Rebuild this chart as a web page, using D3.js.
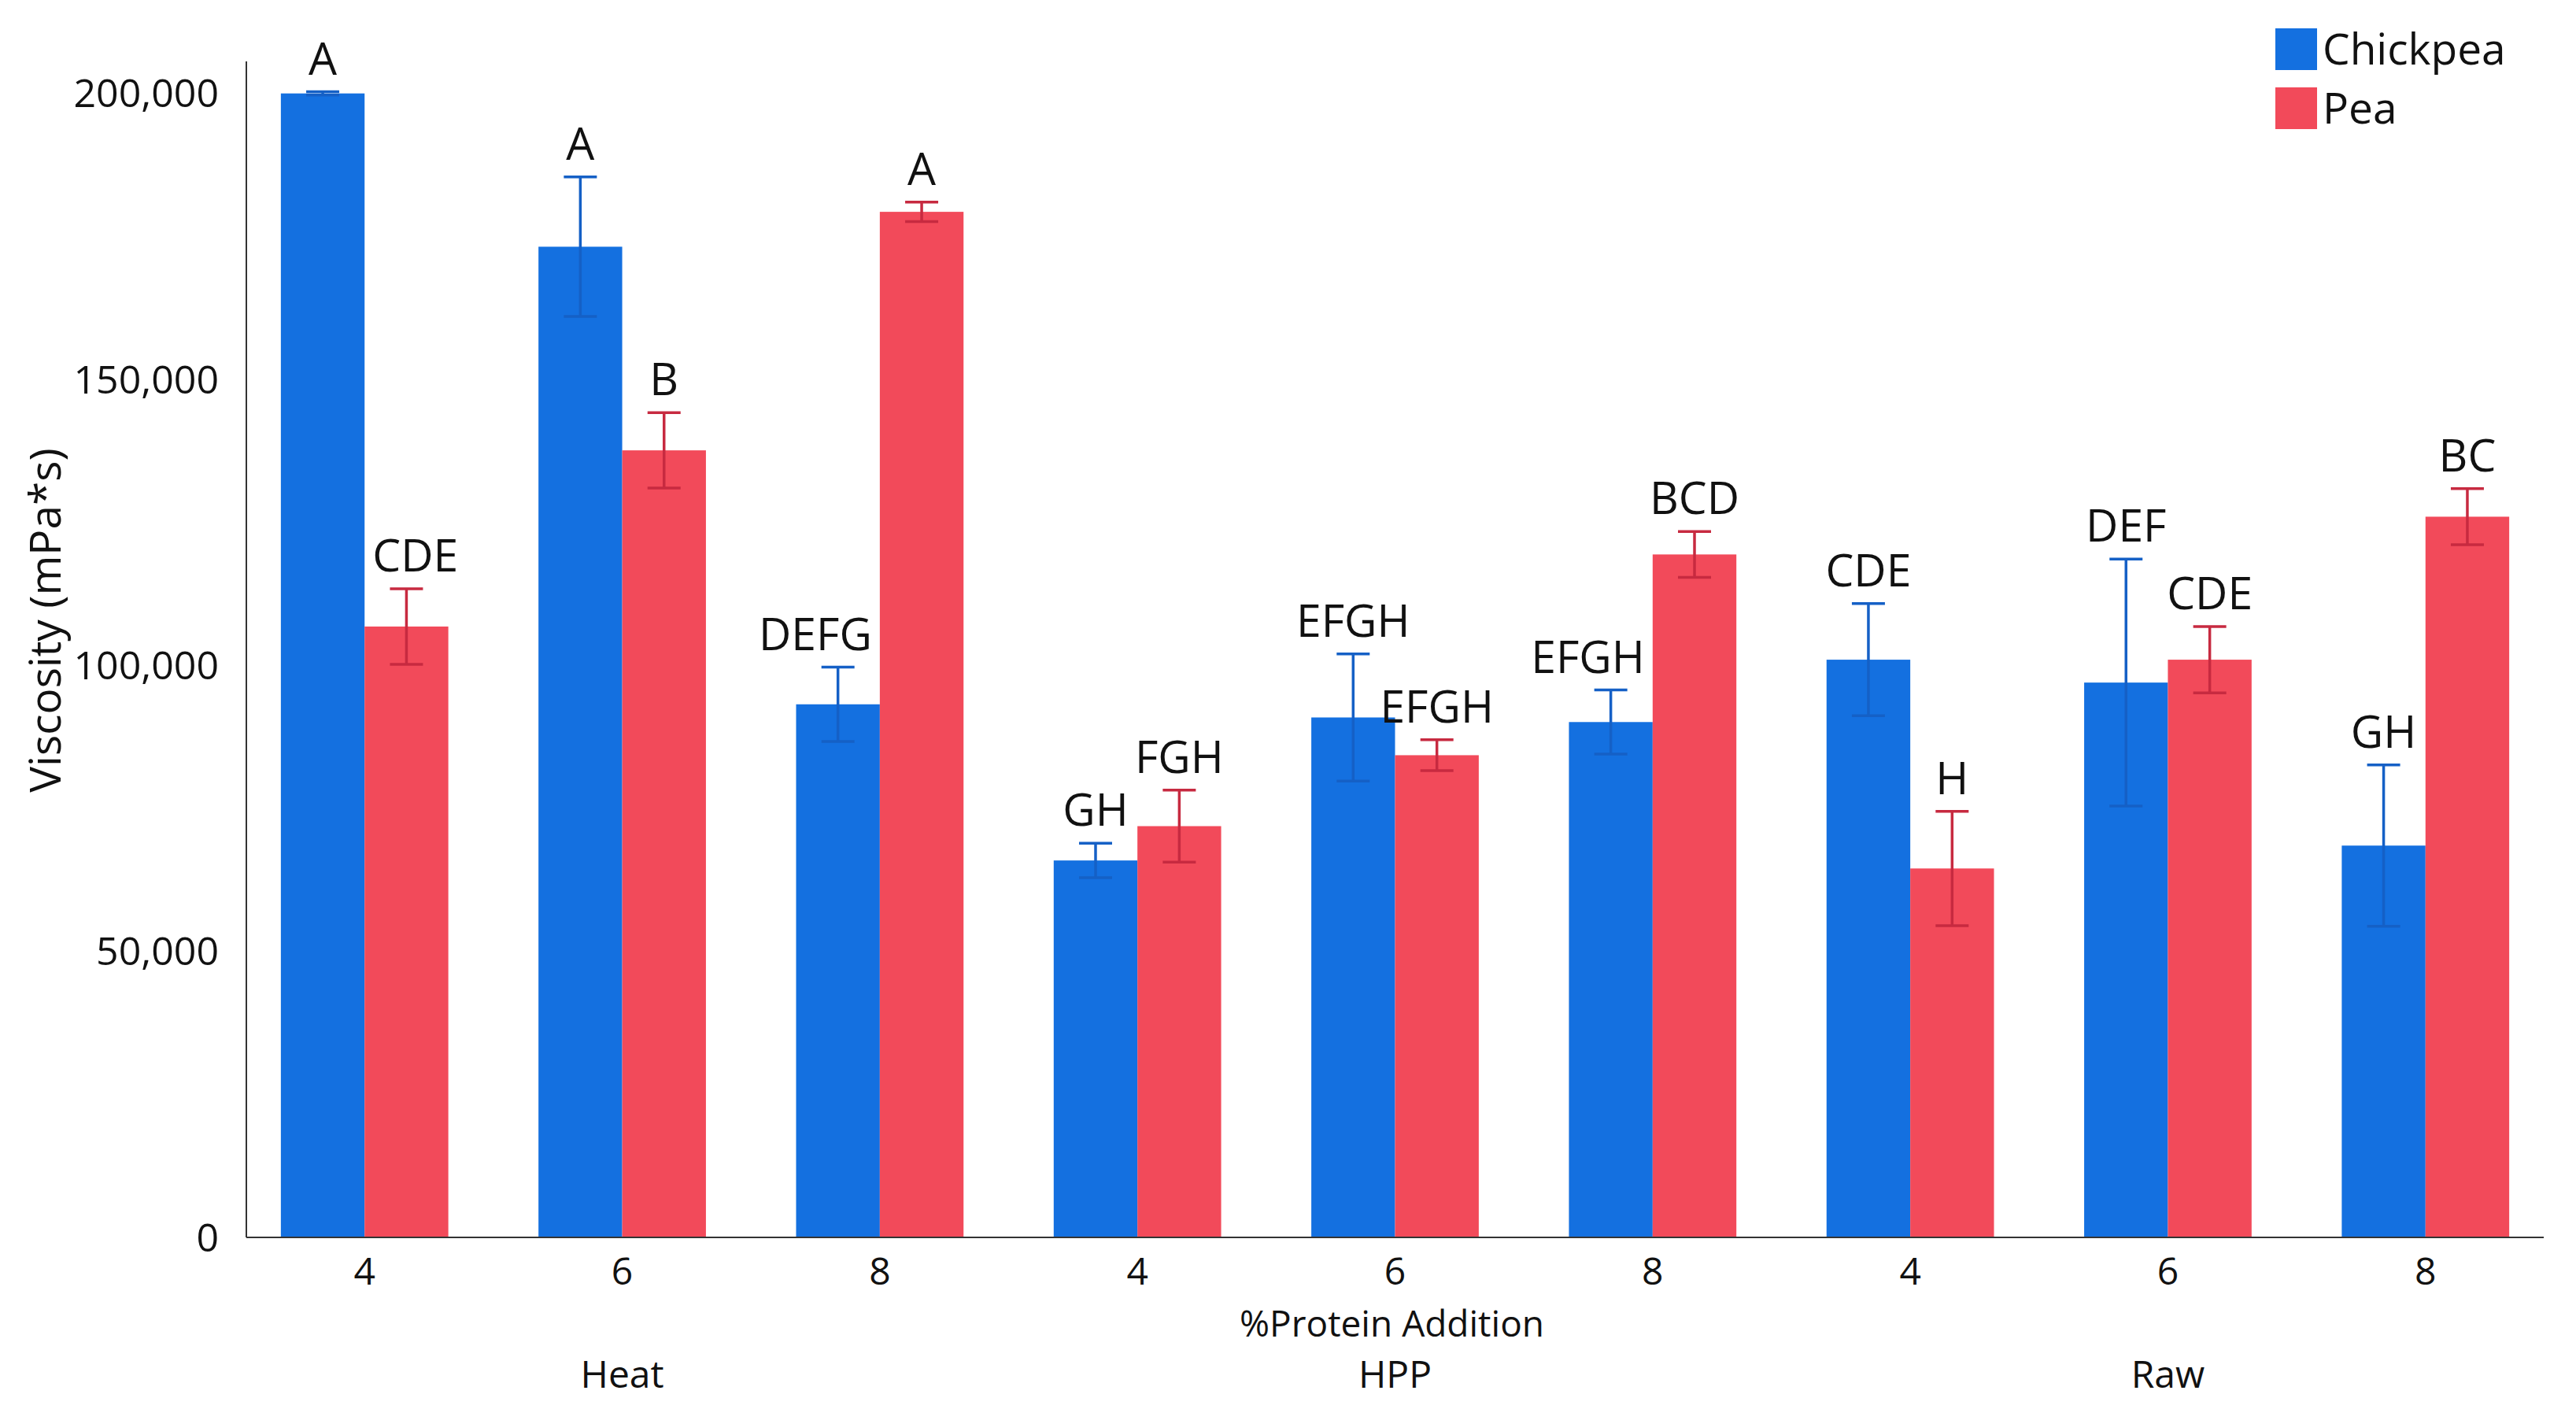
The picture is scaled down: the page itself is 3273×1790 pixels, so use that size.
<!DOCTYPE html>
<html>
<head>
<meta charset="utf-8">
<script src="https://cdnjs.cloudflare.com/ajax/libs/d3/7.8.5/d3.min.js"></script>
<style>
  body { margin: 0; background: #fff; }
  text { font-family: "Open Sans", "Noto Sans", sans-serif; fill: #111; }
</style>
</head>
<body>
<div class="chart"></div>
<script>
// data
var groups = ["Heat", "HPP", "Raw"];
var levels = ["4", "6", "8"];
var series = ["Chickpea", "Pea"];
var chickpea    = [200000, 173200, 93200, 65900, 90900, 90100, 101000, 97000, 68500];
var chickpeaErr = [300, 12200, 6500, 3000, 11100, 5600, 9800, 21600, 14100];
var pea         = [106800, 137600, 179300, 71900, 84300, 119400, 64500, 101000, 126000];
var peaErr      = [6600, 6600, 1700, 6300, 2700, 4000, 10000, 5800, 4900];
var chickpeaLetters = ["A", "A", "DEFG", "GH", "EFGH", "EFGH", "CDE", "DEF", "GH"];
var peaLetters      = ["CDE", "B", "A", "FGH", "EFGH", "BCD", "H", "CDE", "BC"];
var yTicks = [0, 50000, 100000, 150000, 200000];

var w = 3273;
var h = 1790;
var leftX = 313, rightX = 3232, topY = 78, baseY = 1572;
var colors = {Chickpea: "#1470e0", Pea: "#f24a5a"};
var errColors = {Chickpea: "#1560c6", Pea: "#c72a40"};

var svg = d3.select('.chart').append('svg')
	.attr('width', w)
	.attr('height', h);

// one slot per group x level
var cats = [];
groups.forEach(function(g){
	levels.forEach(function(l){ cats.push(g + '|' + l); });
});

var x = d3.scaleBand()
	.domain(cats)
	.range([leftX, rightX])
	.paddingInner(0.35)
	.paddingOuter(0.134);

var xs = d3.scaleBand()
	.domain(series)
	.range([0, x.bandwidth()]);

var y = d3.scaleLinear()
	.domain([0, 205600])
	.range([baseY, topY]);

var rows = [];
cats.forEach(function(c, i){
	rows.push({cat: c, s: "Chickpea", v: chickpea[i], e: chickpeaErr[i], lab: chickpeaLetters[i], other: pea[i]});
	rows.push({cat: c, s: "Pea", v: pea[i], e: peaErr[i], lab: peaLetters[i], other: chickpea[i]});
});

var mid = function(d){ return x(d.cat) + xs(d.s) + xs.bandwidth() / 2; };

/*---------------------------BARS--------------------------*/

svg.selectAll('.bar').data(rows).enter()
	.append('rect')
	.attr('class', 'bar')
	.attr('x', function(d){ return x(d.cat) + xs(d.s); })
	.attr('y', function(d){ return y(d.v); })
	.attr('width', xs.bandwidth())
	.attr('height', function(d){ return baseY - y(d.v); })
	.attr('fill', function(d){ return colors[d.s]; });

/*---------------------------ERROR BARS--------------------------*/

var cap = 21;
var err = svg.selectAll('.err').data(rows).enter()
	.append('g')
	.attr('class', 'err')
	.attr('stroke', function(d){ return errColors[d.s]; })
	.attr('stroke-width', 3.5);

err.append('line')
	.attr('x1', mid)
	.attr('x2', mid)
	.attr('y1', function(d){ return y(d.v + d.e); })
	.attr('y2', function(d){ return y(d.v - d.e); });

err.append('line')
	.attr('x1', function(d){ return mid(d) - cap; })
	.attr('x2', function(d){ return mid(d) + cap; })
	.attr('y1', function(d){ return y(d.v + d.e); })
	.attr('y2', function(d){ return y(d.v + d.e); });

err.append('line')
	.attr('x1', function(d){ return mid(d) - cap; })
	.attr('x2', function(d){ return mid(d) + cap; })
	.attr('y1', function(d){ return y(d.v - d.e); })
	.attr('y2', function(d){ return y(d.v - d.e); });

/*---------------------------LETTERS--------------------------*/

var letters = svg.selectAll('.letter').data(rows).enter()
	.append('text')
	.attr('class', 'letter')
	.attr('x', mid)
	.attr('y', function(d){ return y(d.v + d.e) - 22; })
	.attr('text-anchor', 'middle')
	.attr('font-size', 57)
	.text(function(d){ return d.lab; });

// push a letter sideways when it would run into the taller neighbour bar
letters.each(function(d){
	var ly = y(d.v + d.e) - 22;
	if (y(d.other) > ly - 15) return;
	var b = this.getBBox();
	var gap = 10;
	var shift = 0;
	if (d.s === "Chickpea") {
		var edge = x(d.cat) + xs("Pea") - gap;
		if (b.x + b.width > edge) shift = edge - (b.x + b.width);
	} else {
		var edge2 = x(d.cat) + xs("Pea") + gap;
		if (b.x < edge2) shift = edge2 - b.x;
	}
	d3.select(this).attr('x', mid(d) + shift);
});

/*---------------------------AXES--------------------------*/

svg.append('line')
	.attr('x1', leftX).attr('x2', leftX)
	.attr('y1', topY).attr('y2', baseY)
	.attr('stroke', '#333').attr('stroke-width', 2);

svg.append('line')
	.attr('x1', leftX).attr('x2', rightX)
	.attr('y1', baseY).attr('y2', baseY)
	.attr('stroke', '#333').attr('stroke-width', 2);

svg.selectAll('.ytick').data(yTicks).enter()
	.append('text')
	.attr('class', 'ytick')
	.attr('x', 278)
	.attr('y', function(d){ return y(d); })
	.attr('dy', '0.35em')
	.attr('text-anchor', 'end')
	.attr('font-size', 50)
	.text(function(d){ return d3.format(',')(d); });

svg.selectAll('.xtick').data(cats).enter()
	.append('text')
	.attr('class', 'xtick')
	.attr('x', function(d){ return x(d) + x.bandwidth() / 2; })
	.attr('y', 1615)
	.attr('dy', '0.35em')
	.attr('text-anchor', 'middle')
	.attr('font-size', 48)
	.text(function(d){ return d.split('|')[1]; });

svg.selectAll('.group').data(groups).enter()
	.append('text')
	.attr('class', 'group')
	.attr('x', function(g){ return x(g + '|6') + x.bandwidth() / 2; })
	.attr('y', 1746)
	.attr('dy', '0.35em')
	.attr('text-anchor', 'middle')
	.attr('font-size', 48)
	.text(function(g){ return g; });

svg.append('text')
	.attr('x', x('HPP|6') + x.bandwidth() / 2 - 4)
	.attr('y', 1682)
	.attr('dy', '0.35em')
	.attr('text-anchor', 'middle')
	.attr('font-size', 46)
	.text('%Protein Addition');

svg.append('text')
	.attr('transform', 'translate(58,788) rotate(-90)')
	.attr('dy', '0.35em')
	.attr('text-anchor', 'middle')
	.attr('font-size', 55)
	.text('Viscosity (mPa*s)');

/*---------------------------LEGEND--------------------------*/

var legend = svg.selectAll('.legend').data(series).enter()
	.append('g')
	.attr('class', 'legend')
	.attr('transform', function(d, i){ return 'translate(2891,' + (36 + i * 75) + ')'; });

legend.append('rect')
	.attr('width', 53)
	.attr('height', 53)
	.attr('fill', function(d){ return colors[d]; });

legend.append('text')
	.attr('x', 60)
	.attr('y', 27)
	.attr('dy', '0.35em')
	.attr('font-size', 55)
	.text(function(d){ return d; });
</script>
</body>
</html>
